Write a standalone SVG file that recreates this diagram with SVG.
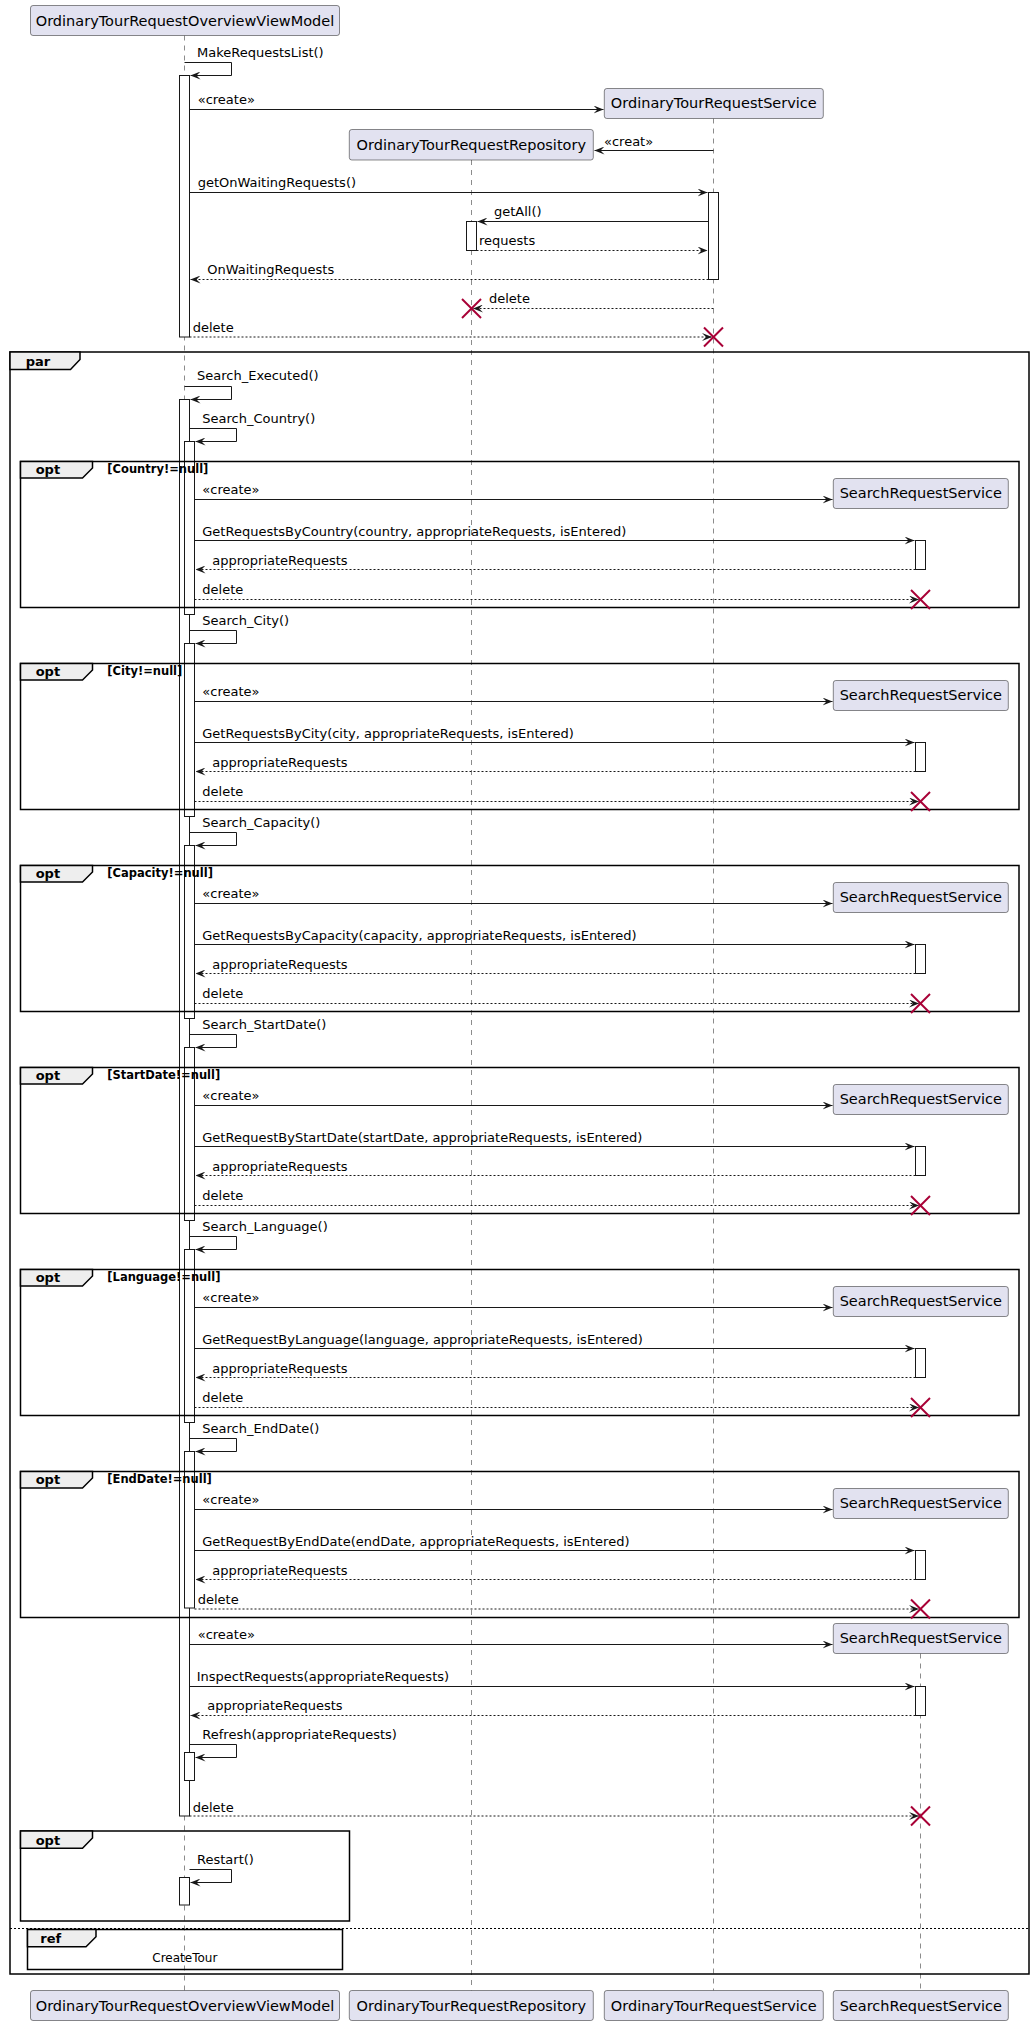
<svg xmlns="http://www.w3.org/2000/svg" width="1034" height="2025" viewBox="0 0 1034 2025">
<style>
.pbox{fill:#E2E2F0;stroke:#181818;stroke-width:0.5}
.pt{font-family:"DejaVu Sans",Verdana,sans-serif;font-size:14.5px;fill:#000;text-anchor:middle}
.m{font-family:"DejaVu Sans",Verdana,sans-serif;font-size:13px;fill:#000}
.fl{font-family:"DejaVu Sans",Verdana,sans-serif;font-size:13px;font-weight:bold;fill:#000}
.g{font-family:"DejaVu Sans",Verdana,sans-serif;font-size:11.5px;font-weight:bold;fill:#000}
.rt{font-family:"DejaVu Sans",Verdana,sans-serif;font-size:12px;fill:#000;text-anchor:middle}
.life{stroke:#181818;stroke-width:0.5;stroke-dasharray:5,5;fill:none}
.act{fill:#FFFFFF;stroke:#181818;stroke-width:1}
.ln{stroke:#181818;stroke-width:1;fill:none;marker-end:url(#ah)}
.d{stroke-dasharray:2,2}
.frame{fill:none;stroke:#000;stroke-width:1.5}
.tab{fill:#EEEEEE;stroke:#000;stroke-width:1.5}
.sep{stroke:#000;stroke-width:1;stroke-dasharray:2,2}
.x{stroke:#A80036;stroke-width:2}
</style>
<defs>
<marker id="ah" viewBox="0 0 10 8" refX="10" refY="4" markerWidth="10" markerHeight="8" markerUnits="userSpaceOnUse" orient="auto"><path d="M0,0 L10,4 L0,8 L4,4 Z" fill="#181818"/></marker>
<g id="xm"><line class="x" x1="-9.5" y1="-9.5" x2="9.5" y2="9.5"/><line class="x" x1="-9.5" y1="9.5" x2="9.5" y2="-9.5"/></g>
</defs>
<rect width="1034" height="2025" fill="#FFFFFF"/>

<g id="lifelines">
<line class="life" x1="184.5" y1="35.5" x2="184.5" y2="1990.5"/>
<line class="life" x1="471.5" y1="160" x2="471.5" y2="1990.5"/>
<line class="life" x1="713.5" y1="118.5" x2="713.5" y2="1990.5"/>
<line class="life" x1="920.5" y1="1653.5" x2="920.5" y2="1990.5"/>
</g>

<g id="activations">
<rect class="act" x="179.5" y="75.5" width="10" height="261.5"/>
<rect class="act" x="708.5" y="192.5" width="10" height="87"/>
<rect class="act" x="466.5" y="221.5" width="10" height="29"/>
<rect class="act" x="179.5" y="399.5" width="10" height="1416.5"/>
<rect class="act" x="184.5" y="441.5" width="10" height="173"/>
<rect class="act" x="184.5" y="643.5" width="10" height="173"/>
<rect class="act" x="184.5" y="845.5" width="10" height="173"/>
<rect class="act" x="184.5" y="1047.5" width="10" height="173"/>
<rect class="act" x="184.5" y="1249.5" width="10" height="173"/>
<rect class="act" x="184.5" y="1451.5" width="10" height="156.5"/>
<rect class="act" x="915.5" y="540.5" width="10" height="29"/>
<rect class="act" x="915.5" y="742.5" width="10" height="29"/>
<rect class="act" x="915.5" y="944.5" width="10" height="29"/>
<rect class="act" x="915.5" y="1146.5" width="10" height="29"/>
<rect class="act" x="915.5" y="1348.5" width="10" height="29"/>
<rect class="act" x="915.5" y="1550.5" width="10" height="29"/>
<rect class="act" x="915.5" y="1686.5" width="10" height="29"/>
<rect class="act" x="184.5" y="1752.5" width="10" height="28"/>
<rect class="act" x="179.5" y="1877.5" width="10" height="27.5"/>
</g>

<g id="frames">
<rect class="frame" x="10" y="352" width="1019" height="1622"/>
<polygon class="tab" points="10,352 80,352 80,359.5 70.5,369.5 10,369.5"/>
<text class="fl" x="25.7" y="365.7">par</text>

<g id="opt-country">
<rect class="frame" x="20.5" y="461.5" width="998.5" height="146"/>
<polygon class="tab" points="20.5,461.5 92.5,461.5 92.5,468 82.5,478 20.5,478"/>
<text class="fl" x="35.7" y="473.5">opt</text>
<text class="g" x="107.3" y="473">[Country!=null]</text>
</g>
<g id="opt-city">
<rect class="frame" x="20.5" y="663.5" width="998.5" height="146"/>
<polygon class="tab" points="20.5,663.5 92.5,663.5 92.5,670 82.5,680 20.5,680"/>
<text class="fl" x="35.7" y="675.5">opt</text>
<text class="g" x="107.3" y="675">[City!=null]</text>
</g>
<g id="opt-capacity">
<rect class="frame" x="20.5" y="865.5" width="998.5" height="146"/>
<polygon class="tab" points="20.5,865.5 92.5,865.5 92.5,872 82.5,882 20.5,882"/>
<text class="fl" x="35.7" y="877.5">opt</text>
<text class="g" x="107.3" y="877">[Capacity!=null]</text>
</g>
<g id="opt-startdate">
<rect class="frame" x="20.5" y="1067.5" width="998.5" height="146"/>
<polygon class="tab" points="20.5,1067.5 92.5,1067.5 92.5,1074 82.5,1084 20.5,1084"/>
<text class="fl" x="35.7" y="1079.5">opt</text>
<text class="g" x="107.3" y="1079">[StartDate!=null]</text>
</g>
<g id="opt-language">
<rect class="frame" x="20.5" y="1269.5" width="998.5" height="146"/>
<polygon class="tab" points="20.5,1269.5 92.5,1269.5 92.5,1276 82.5,1286 20.5,1286"/>
<text class="fl" x="35.7" y="1281.5">opt</text>
<text class="g" x="107.3" y="1281">[Language!=null]</text>
</g>
<g id="opt-enddate">
<rect class="frame" x="20.5" y="1471.5" width="998.5" height="146"/>
<polygon class="tab" points="20.5,1471.5 92.5,1471.5 92.5,1478 82.5,1488 20.5,1488"/>
<text class="fl" x="35.7" y="1483.5">opt</text>
<text class="g" x="107.3" y="1483">[EndDate!=null]</text>
</g>
<g id="opt-restart">
<rect class="frame" x="20.5" y="1831" width="329" height="90"/>
<polygon class="tab" points="20.5,1831 92.5,1831 92.5,1838 82.5,1848.3 20.5,1848.3"/>
<text class="fl" x="35.7" y="1845">opt</text>
</g>
<line class="sep" x1="10" y1="1928.5" x2="1029" y2="1928.5"/>
<g id="ref-createtour">
<rect class="frame" x="27.5" y="1929.5" width="315" height="40"/>
<polygon class="tab" points="27.5,1929.5 96,1929.5 96,1936.7 86,1946.7 27.5,1946.7"/>
<text class="fl" x="40.3" y="1943.3">ref</text>
<text class="rt" x="184.8" y="1961.7">CreateTour</text>
</g>
</g>

<g id="participants">
<g id="p-viewmodel-top"><rect class="pbox" x="30.5" y="5.5" width="309" height="30" rx="2.5"/><text class="pt" x="185" y="25.5">OrdinaryTourRequestOverviewViewModel</text></g>
<g id="p-service-top"><rect class="pbox" x="604.3" y="88.5" width="219" height="30" rx="2.5"/><text class="pt" x="713.8" y="108">OrdinaryTourRequestService</text></g>
<g id="p-repo-top"><rect class="pbox" x="349.3" y="129.5" width="244" height="30.5" rx="2.5"/><text class="pt" x="471.3" y="149.5">OrdinaryTourRequestRepository</text></g>
<g id="p-srs-1"><rect class="pbox" x="833.3" y="478.5" width="175" height="30" rx="2.5"/><text class="pt" x="920.8" y="498">SearchRequestService</text></g>
<g id="p-srs-2"><rect class="pbox" x="833.3" y="680.5" width="175" height="30" rx="2.5"/><text class="pt" x="920.8" y="700">SearchRequestService</text></g>
<g id="p-srs-3"><rect class="pbox" x="833.3" y="882.5" width="175" height="30" rx="2.5"/><text class="pt" x="920.8" y="902">SearchRequestService</text></g>
<g id="p-srs-4"><rect class="pbox" x="833.3" y="1084.5" width="175" height="30" rx="2.5"/><text class="pt" x="920.8" y="1104">SearchRequestService</text></g>
<g id="p-srs-5"><rect class="pbox" x="833.3" y="1286.5" width="175" height="30" rx="2.5"/><text class="pt" x="920.8" y="1306">SearchRequestService</text></g>
<g id="p-srs-6"><rect class="pbox" x="833.3" y="1488.5" width="175" height="30" rx="2.5"/><text class="pt" x="920.8" y="1508">SearchRequestService</text></g>
<g id="p-srs-7"><rect class="pbox" x="833.3" y="1623.5" width="175" height="30" rx="2.5"/><text class="pt" x="920.8" y="1643">SearchRequestService</text></g>
<g id="p-viewmodel-bottom"><rect class="pbox" x="30.5" y="1990.5" width="309" height="30" rx="2.5"/><text class="pt" x="185" y="2010.5">OrdinaryTourRequestOverviewViewModel</text></g>
<g id="p-repo-bottom"><rect class="pbox" x="349.3" y="1990.5" width="244" height="30" rx="2.5"/><text class="pt" x="471.3" y="2010.5">OrdinaryTourRequestRepository</text></g>
<g id="p-service-bottom"><rect class="pbox" x="604.3" y="1990.5" width="219" height="30" rx="2.5"/><text class="pt" x="713.8" y="2010.5">OrdinaryTourRequestService</text></g>
<g id="p-srs-bottom"><rect class="pbox" x="833.3" y="1990.5" width="175" height="30" rx="2.5"/><text class="pt" x="920.8" y="2010.5">SearchRequestService</text></g>
</g>

<g id="connectors">
<path class="ln" d="M184.5,62.5 H231.5 V75.5 H190.5"/>
<text class="m" x="197" y="57">MakeRequestsList()</text>
<line class="ln" x1="189.5" y1="109.5" x2="603.5" y2="109.5"/>
<text class="m" x="197.7" y="103.5">«create»</text>
<line class="ln" x1="713.5" y1="150.5" x2="594.5" y2="150.5"/>
<text class="m" x="604" y="146">«creat»</text>
<line class="ln" x1="189.5" y1="192.5" x2="707.5" y2="192.5"/>
<text class="m" x="197.7" y="187">getOnWaitingRequests()</text>
<line class="ln" x1="708.5" y1="221.5" x2="477.5" y2="221.5"/>
<text class="m" x="494" y="216">getAll()</text>
<line class="ln d" x1="476.5" y1="250.5" x2="707.5" y2="250.5"/>
<text class="m" x="479" y="244.5">requests</text>
<line class="ln d" x1="708.5" y1="279.5" x2="190.5" y2="279.5"/>
<text class="m" x="207.3" y="273.5">OnWaitingRequests</text>
<line class="ln d" x1="713.5" y1="308.5" x2="473" y2="308.5"/>
<text class="m" x="489" y="303.3">delete</text>
<use href="#xm" x="471.5" y="308.5"/>
<line class="ln d" x1="189.5" y1="337" x2="712" y2="337"/>
<text class="m" x="192.7" y="332.3">delete</text>
<use href="#xm" x="713.5" y="337"/>

<path class="ln" d="M184.5,386.5 H231.5 V399.5 H190.5"/>
<text class="m" x="197" y="380">Search_Executed()</text>

<path class="ln" d="M189.5,428.5 H236.5 V441.5 H195.5"/>
<text class="m" x="202.3" y="422.5">Search_Country()</text>
<line class="ln" x1="194.5" y1="499.5" x2="832.5" y2="499.5"/>
<text class="m" x="202.3" y="493.5">«create»</text>
<line class="ln" x1="194.5" y1="540.5" x2="914.5" y2="540.5"/>
<text class="m" x="202.3" y="535.5">GetRequestsByCountry(country, appropriateRequests, isEntered)</text>
<line class="ln d" x1="915.5" y1="569.5" x2="195.5" y2="569.5"/>
<text class="m" x="212.3" y="564.5">appropriateRequests</text>
<line class="ln d" x1="194.5" y1="599.5" x2="919" y2="599.5"/>
<text class="m" x="202.3" y="593.5">delete</text>
<use href="#xm" x="920.5" y="599.5"/>

<path class="ln" d="M189.5,630.5 H236.5 V643.5 H195.5"/>
<text class="m" x="202.3" y="624.5">Search_City()</text>
<line class="ln" x1="194.5" y1="701.5" x2="832.5" y2="701.5"/>
<text class="m" x="202.3" y="695.5">«create»</text>
<line class="ln" x1="194.5" y1="742.5" x2="914.5" y2="742.5"/>
<text class="m" x="202.3" y="737.5">GetRequestsByCity(city, appropriateRequests, isEntered)</text>
<line class="ln d" x1="915.5" y1="771.5" x2="195.5" y2="771.5"/>
<text class="m" x="212.3" y="766.5">appropriateRequests</text>
<line class="ln d" x1="194.5" y1="801.5" x2="919" y2="801.5"/>
<text class="m" x="202.3" y="795.5">delete</text>
<use href="#xm" x="920.5" y="801.5"/>

<path class="ln" d="M189.5,832.5 H236.5 V845.5 H195.5"/>
<text class="m" x="202.3" y="826.5">Search_Capacity()</text>
<line class="ln" x1="194.5" y1="903.5" x2="832.5" y2="903.5"/>
<text class="m" x="202.3" y="897.5">«create»</text>
<line class="ln" x1="194.5" y1="944.5" x2="914.5" y2="944.5"/>
<text class="m" x="202.3" y="939.5">GetRequestsByCapacity(capacity, appropriateRequests, isEntered)</text>
<line class="ln d" x1="915.5" y1="973.5" x2="195.5" y2="973.5"/>
<text class="m" x="212.3" y="968.5">appropriateRequests</text>
<line class="ln d" x1="194.5" y1="1003.5" x2="919" y2="1003.5"/>
<text class="m" x="202.3" y="997.5">delete</text>
<use href="#xm" x="920.5" y="1003.5"/>

<path class="ln" d="M189.5,1034.5 H236.5 V1047.5 H195.5"/>
<text class="m" x="202.3" y="1028.5">Search_StartDate()</text>
<line class="ln" x1="194.5" y1="1105.5" x2="832.5" y2="1105.5"/>
<text class="m" x="202.3" y="1099.5">«create»</text>
<line class="ln" x1="194.5" y1="1146.5" x2="914.5" y2="1146.5"/>
<text class="m" x="202.3" y="1141.5">GetRequestByStartDate(startDate, appropriateRequests, isEntered)</text>
<line class="ln d" x1="915.5" y1="1175.5" x2="195.5" y2="1175.5"/>
<text class="m" x="212.3" y="1170.5">appropriateRequests</text>
<line class="ln d" x1="194.5" y1="1205.5" x2="919" y2="1205.5"/>
<text class="m" x="202.3" y="1199.5">delete</text>
<use href="#xm" x="920.5" y="1205.5"/>

<path class="ln" d="M189.5,1236.5 H236.5 V1249.5 H195.5"/>
<text class="m" x="202.3" y="1230.5">Search_Language()</text>
<line class="ln" x1="194.5" y1="1307.5" x2="832.5" y2="1307.5"/>
<text class="m" x="202.3" y="1301.5">«create»</text>
<line class="ln" x1="194.5" y1="1348.5" x2="914.5" y2="1348.5"/>
<text class="m" x="202.3" y="1343.5">GetRequestByLanguage(language, appropriateRequests, isEntered)</text>
<line class="ln d" x1="915.5" y1="1377.5" x2="195.5" y2="1377.5"/>
<text class="m" x="212.3" y="1372.5">appropriateRequests</text>
<line class="ln d" x1="194.5" y1="1407.5" x2="919" y2="1407.5"/>
<text class="m" x="202.3" y="1401.5">delete</text>
<use href="#xm" x="920.5" y="1407.5"/>

<path class="ln" d="M189.5,1438.5 H236.5 V1451.5 H195.5"/>
<text class="m" x="202.3" y="1432.5">Search_EndDate()</text>
<line class="ln" x1="194.5" y1="1509.5" x2="832.5" y2="1509.5"/>
<text class="m" x="202.3" y="1503.5">«create»</text>
<line class="ln" x1="194.5" y1="1550.5" x2="914.5" y2="1550.5"/>
<text class="m" x="202.3" y="1545.5">GetRequestByEndDate(endDate, appropriateRequests, isEntered)</text>
<line class="ln d" x1="915.5" y1="1579.5" x2="195.5" y2="1579.5"/>
<text class="m" x="212.3" y="1574.5">appropriateRequests</text>
<line class="ln d" x1="194.5" y1="1609" x2="919" y2="1609"/>
<text class="m" x="197.7" y="1603.5">delete</text>
<use href="#xm" x="920.5" y="1609"/>

<line class="ln" x1="189.5" y1="1644.5" x2="832.5" y2="1644.5"/>
<text class="m" x="197.7" y="1639">«create»</text>
<line class="ln" x1="189.5" y1="1686.5" x2="914.5" y2="1686.5"/>
<text class="m" x="196.7" y="1680.7">InspectRequests(appropriateRequests)</text>
<line class="ln d" x1="915.5" y1="1715.5" x2="190.5" y2="1715.5"/>
<text class="m" x="207.3" y="1710">appropriateRequests</text>
<path class="ln" d="M189.5,1744.5 H236.5 V1757.5 H195.5"/>
<text class="m" x="202.3" y="1738.7">Refresh(appropriateRequests)</text>
<line class="ln d" x1="189.5" y1="1816" x2="919" y2="1816"/>
<text class="m" x="192.7" y="1811.7">delete</text>
<use href="#xm" x="920.5" y="1816"/>
<path class="ln" d="M189.5,1869.5 H231.5 V1882.5 H190.5"/>
<text class="m" x="197" y="1864.3">Restart()</text>
</g>
</svg>
